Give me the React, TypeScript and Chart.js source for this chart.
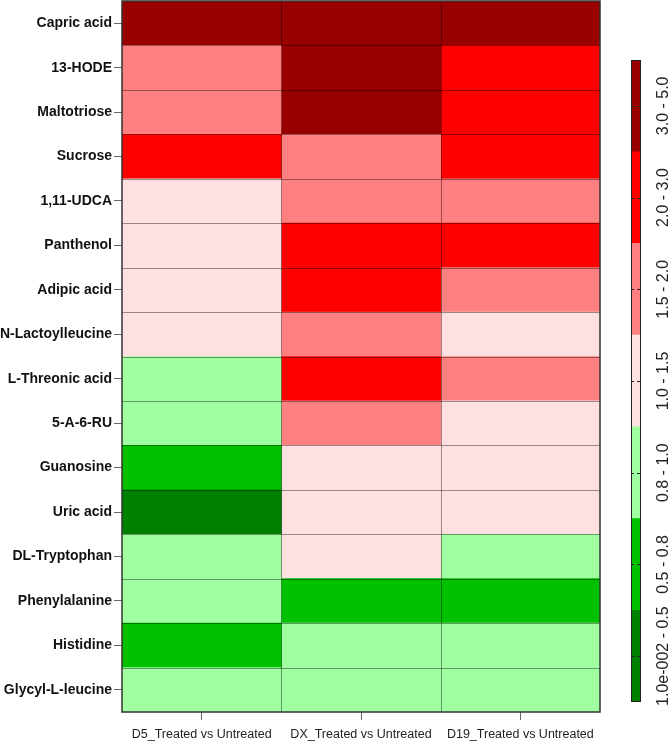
import React, { useEffect, useRef } from "react";
import { Chart, registerables } from "chart.js";
Chart.register(...registerables);

const metabolites = [
  "Capric acid", "13-HODE", "Maltotriose", "Sucrose", "1,11-UDCA", "Panthenol",
  "Adipic acid", "N-Lactoylleucine", "L-Threonic acid", "5-A-6-RU", "Guanosine",
  "Uric acid", "DL-Tryptophan", "Phenylalanine", "Histidine", "Glycyl-L-leucine",
];
const comparisons = ["D5_Treated vs Untreated", "DX_Treated vs Untreated", "D19_Treated vs Untreated"];
const d5Values = [3.5, 1.7, 1.7, 2.5, 1.2, 1.2, 1.2, 1.2, 0.9, 0.9, 0.65, 0.3, 0.9, 0.9, 0.65, 0.9];
const dxValues = [3.5, 3.5, 3.5, 1.7, 1.7, 2.5, 2.5, 1.7, 2.5, 1.7, 1.2, 1.2, 1.2, 0.65, 0.9, 0.9];
const d19Values = [3.5, 2.5, 2.5, 2.5, 1.7, 2.5, 1.7, 1.2, 1.7, 1.2, 1.2, 1.2, 0.9, 0.65, 0.9, 0.9];
const binLabels = ["1.0e-002 - 0.5", "0.5 - 0.8", "0.8 - 1.0", "1.0 - 1.5", "1.5 - 2.0", "2.0 - 3.0", "3.0 - 5.0"];
const binEdges = [0.01, 0.5, 0.8, 1.0, 1.5, 2.0, 3.0, 5.0];
const binColors = ["#008000", "#00C000", "#A0FFA0", "#FFE0E0", "#FF8080", "#FF0000", "#990000"];
const binSizes = [1, 1, 1, 1, 1, 1, 1];

const columns = [d5Values, dxValues, d19Values];
const FONT = "'Liberation Sans', Arial, sans-serif";

function colorFor(v: number): string {
  for (let i = 0; i < binColors.length; i++) {
    if (v >= binEdges[i] && v < binEdges[i + 1]) return binColors[i];
  }
  return binColors[binColors.length - 1];
}

const cellLines = {
  id: "cellLines",
  afterDatasetsDraw(chart: any) {
    const { ctx, chartArea } = chart;
    const xs = chart.scales.x;
    const ys = chart.scales.y;
    ctx.save();
    ctx.strokeStyle = "rgba(0,0,0,0.4)";
    ctx.lineWidth = 1;
    ctx.beginPath();
    for (let i = 1; i < metabolites.length; i++) {
      const y = Math.round((ys.getPixelForValue(i - 1) + ys.getPixelForValue(i)) / 2) + 0.5;
      ctx.moveTo(chartArea.left, y);
      ctx.lineTo(chartArea.right, y);
    }
    for (let j = 1; j < comparisons.length; j++) {
      const x = Math.round(xs.getPixelForValue(j)) + 0.5;
      ctx.moveTo(x, chartArea.top);
      ctx.lineTo(x, chartArea.bottom);
    }
    ctx.stroke();
    ctx.strokeStyle = "#333";
    ctx.lineWidth = 1.5;
    ctx.strokeRect(chartArea.left, chartArea.top, chartArea.right - chartArea.left, chartArea.bottom - chartArea.top);
    ctx.restore();
  },
};

const colorbarDecor = {
  id: "colorbarDecor",
  afterDatasetsDraw(chart: any) {
    const { ctx, chartArea } = chart;
    const ys = chart.scales.y;
    ctx.save();
    ctx.strokeStyle = "#222";
    ctx.lineWidth = 1;
    ctx.strokeRect(chartArea.left + 0.5, chartArea.top + 0.5, chartArea.right - chartArea.left - 1, chartArea.bottom - chartArea.top - 1);
    ctx.setLineDash([3, 3]);
    binLabels.forEach((lab, i) => {
      const y = Math.round(ys.getPixelForValue(i + 0.5)) + 0.5;
      ctx.beginPath();
      ctx.moveTo(chartArea.left, y);
      ctx.lineTo(chartArea.right, y);
      ctx.stroke();
    });
    ctx.setLineDash([]);
    ctx.fillStyle = "#222";
    ctx.font = `16px ${FONT}`;
    ctx.textAlign = "center";
    ctx.textBaseline = "middle";
    binLabels.forEach((lab, i) => {
      const y = ys.getPixelForValue(i + 0.5);
      ctx.save();
      ctx.translate(chartArea.right + 23, y);
      ctx.rotate(-Math.PI / 2);
      ctx.fillText(lab, 0, 0);
      ctx.restore();
    });
    ctx.restore();
  },
};

export default function App() {
  const mainRef = useRef<HTMLCanvasElement>(null);
  const barRef = useRef<HTMLCanvasElement>(null);

  useEffect(() => {
    const main = new Chart(mainRef.current!, {
      type: "bar",
      data: {
        labels: metabolites,
        datasets: columns.map((vals, j) => ({
          label: comparisons[j],
          data: vals.map(() => [j, j + 1]),
          backgroundColor: vals.map(colorFor),
          borderWidth: 0,
          grouped: false,
          barPercentage: 1,
          categoryPercentage: 1,
        })),
      } as any,
      options: {
        indexAxis: "y",
        responsive: false,
        animation: false,
        layout: { padding: { top: 1, right: 69, left: 0, bottom: 0 } },
        plugins: { legend: { display: false }, tooltip: { enabled: false } },
        scales: {
          x: {
            type: "linear",
            min: 0,
            max: 3,
            afterBuildTicks: (s: any) => {
              s.ticks = [0.5, 1.5, 2.5].map((v) => ({ value: v }));
            },
            afterFit: (s: any) => {
              s.height = 29;
              s.paddingLeft = 0;
              s.paddingRight = 0;
            },
            ticks: {
              callback: (_v: any, i: number) => comparisons[i],
              font: { family: FONT, size: 12.5 },
              color: "#222",
              padding: 7,
              maxRotation: 0,
              autoSkip: false,
            },
            grid: { drawOnChartArea: false, tickLength: 8, color: "#666" },
            border: { display: false },
          },
          y: {
            type: "category",
            afterFit: (s: any) => {
              s.width = 122;
              s.paddingTop = 0;
              s.paddingBottom = 0;
            },
            ticks: {
              font: { family: FONT, size: 14, weight: "bold" },
              color: "#111",
              padding: 2,
              autoSkip: false,
            },
            grid: { offset: false, drawOnChartArea: false, tickLength: 8, color: "#666" },
            border: { display: false },
          },
        },
      } as any,
      plugins: [cellLines],
    });

    const bar = new Chart(barRef.current!, {
      type: "bar",
      data: {
        labels: [""],
        datasets: binLabels.map((l, i) => ({
          label: l,
          data: [binSizes[i]],
          backgroundColor: binColors[i],
          borderWidth: 0,
          barPercentage: 1,
          categoryPercentage: 1,
        })),
      },
      options: {
        responsive: false,
        animation: false,
        layout: { padding: { left: 11, right: 28, top: 60, bottom: 39 } },
        plugins: { legend: { display: false }, tooltip: { enabled: false } },
        scales: {
          x: { display: false, stacked: true },
          y: { display: false, stacked: true, min: 0, max: 7 },
        },
      } as any,
      plugins: [colorbarDecor],
    });

    return () => {
      main.destroy();
      bar.destroy();
    };
  }, []);

  return (
    <div style={{ position: "absolute", left: 0, top: 0, width: 669, height: 741, background: "#fff" }}>
      <canvas ref={mainRef} width={669} height={741} style={{ position: "absolute", left: 0, top: 0 }} />
      <canvas ref={barRef} width={49} height={741} style={{ position: "absolute", left: 620, top: 0 }} />
    </div>
  );
}
